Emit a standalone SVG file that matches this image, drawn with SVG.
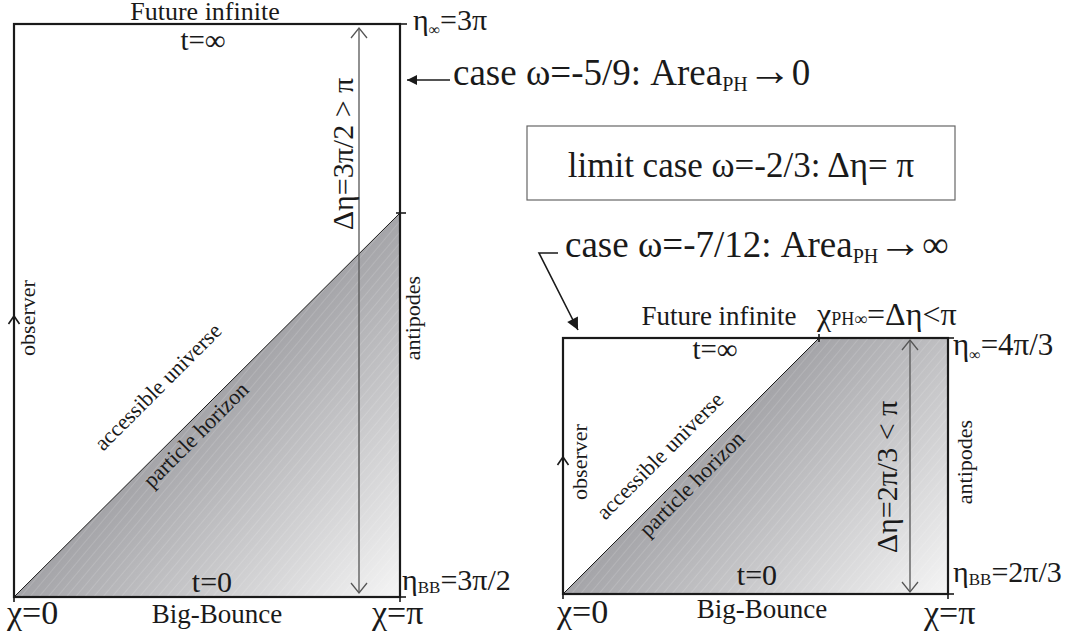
<svg xmlns="http://www.w3.org/2000/svg" width="1069" height="642" viewBox="0 0 1069 642">
<style>
text{font-family:"Liberation Serif","Times New Roman",serif;fill:#1a1a1a}
.frame{fill:none;stroke:#1a1a1a;stroke-width:2.2}
.diag{fill:none;stroke:#1a1a1a;stroke-width:1}
.dim{fill:none;stroke:#555;stroke-width:1.3}
.chev{fill:none;stroke:#1a1a1a;stroke-width:1.6}
.tick{stroke:#1a1a1a;stroke-width:1.6}
.lbl{font-size:22px}
</style>
<defs>
<linearGradient id="gL" gradientUnits="userSpaceOnUse" x1="207" y1="405" x2="400" y2="597">
<stop offset="0" stop-color="#a4a4a8"/><stop offset="1" stop-color="#f5f5f5"/>
</linearGradient>
<linearGradient id="gR" gradientUnits="userSpaceOnUse" x1="755" y1="401" x2="948" y2="594">
<stop offset="0" stop-color="#a4a4a8"/><stop offset="1" stop-color="#f5f5f5"/>
</linearGradient>
<pattern id="hatch" width="7" height="7" patternUnits="userSpaceOnUse" patternTransform="rotate(40)">
<line x1="0" y1="0" x2="0" y2="7" stroke="#ffffff" stroke-opacity="0.35" stroke-width="0.8"/>
</pattern>
<marker id="ahFill" viewBox="0 0 10 10" refX="10" refY="5" markerWidth="10" markerHeight="10" markerUnits="userSpaceOnUse" orient="auto">
<path d="M0,0 L10,5 L0,10 z" fill="#1a1a1a"/>
</marker>
<marker id="ahBig" viewBox="0 0 10 10" refX="10" refY="5" markerWidth="14" markerHeight="12" markerUnits="userSpaceOnUse" orient="auto">
<path d="M0,0 L10,5 L0,10 z" fill="#1a1a1a"/>
</marker>
</defs>

<g id="left-diagram">
<polygon points="14,597 400,213 400,597" fill="url(#gL)"/>
<polygon points="14,597 400,213 400,597" fill="url(#hatch)"/>
<line class="diag" x1="14" y1="597" x2="400" y2="213"/>
<rect class="frame" x="14" y="24" width="386" height="573"/>
<line class="tick" x1="398" y1="24" x2="407" y2="24"/>
<line class="tick" x1="396" y1="213" x2="406" y2="213"/>
<line class="tick" x1="14" y1="597" x2="14" y2="602"/>
<line class="tick" x1="400" y1="597" x2="400" y2="602"/>
<line class="tick" x1="400" y1="597" x2="406" y2="597"/>
<path class="chev" d="M8.5,324 L14,316 L19.5,324"/>
<text x="205" y="20" font-size="26" text-anchor="middle">Future infinite</text>
<text x="203" y="50" font-size="29" text-anchor="middle">t=∞</text>
<text x="212" y="592" font-size="30" text-anchor="middle">t=0</text>
<text x="217" y="623" font-size="27" text-anchor="middle">Big-Bounce</text>
<text x="7" y="624" font-size="34">χ=0</text>
<text x="372" y="624" font-size="34">χ=π</text>
<text x="413" y="30" font-size="30">η<tspan font-size="16" dy="5">∞</tspan><tspan dy="-5">=3π</tspan></text>
<text x="402" y="590" font-size="30">η<tspan font-size="17" dy="3">BB</tspan><tspan dy="-3">=3π/2</tspan></text>
<text class="lbl" transform="translate(35,318) rotate(-90)" text-anchor="middle">observer</text>
<text class="lbl" transform="translate(420,318) rotate(-90)" text-anchor="middle">antipodes</text>
<text class="lbl" transform="translate(163,392) rotate(-45)" text-anchor="middle">accessible universe</text>
<text class="lbl" transform="translate(201,440) rotate(-45)" text-anchor="middle">particle horizon</text>
<line class="dim" x1="359" y1="29" x2="359" y2="592"/>
<path class="dim" d="M351,38 L359,28 L367,38"/>
<path class="dim" d="M351,583 L359,593 L367,583"/>
<text transform="translate(353,154) rotate(-90)" font-size="30" text-anchor="middle">Δη=3π/2 &gt; π</text>
</g>

<g id="right-diagram">
<polygon points="563,594 819,338 948,338 948,594" fill="url(#gR)"/>
<polygon points="563,594 819,338 948,338 948,594" fill="url(#hatch)"/>
<line class="diag" x1="563" y1="594" x2="819" y2="338"/>
<rect class="frame" x="563" y="338" width="385" height="256"/>
<line class="tick" x1="819" y1="334" x2="819" y2="342"/>
<line class="tick" x1="948" y1="338" x2="954" y2="338"/>
<line class="tick" x1="948" y1="594" x2="954" y2="594"/>
<line class="tick" x1="948" y1="594" x2="948" y2="599"/>
<line class="tick" x1="563" y1="594" x2="563" y2="599"/>
<path class="chev" d="M557.5,465 L563,457 L568.5,465"/>
<text x="719" y="325" font-size="27" text-anchor="middle">Future infinite</text>
<text x="817" y="325" font-size="32">χ<tspan font-size="18">PH∞</tspan>=Δη&lt;π</text>
<text x="715" y="359" font-size="29" text-anchor="middle">t=∞</text>
<text x="757" y="585" font-size="30" text-anchor="middle">t=0</text>
<text x="762" y="618" font-size="27" text-anchor="middle">Big-Bounce</text>
<text x="557" y="623" font-size="34">χ=0</text>
<text x="924" y="624" font-size="34">χ=π</text>
<text x="953" y="355" font-size="31">η<tspan font-size="16" dy="5">∞</tspan><tspan dy="-5">=4π/3</tspan></text>
<text x="953" y="582" font-size="30">η<tspan font-size="17" dy="3">BB</tspan><tspan dy="-3">=2π/3</tspan></text>
<text class="lbl" transform="translate(587,462) rotate(-90)" text-anchor="middle">observer</text>
<text class="lbl" transform="translate(972,462) rotate(-90)" text-anchor="middle">antipodes</text>
<text class="lbl" transform="translate(665,461) rotate(-45)" text-anchor="middle">accessible universe</text>
<text class="lbl" transform="translate(697,489) rotate(-45)" text-anchor="middle">particle horizon</text>
<line class="dim" x1="910" y1="341" x2="910" y2="591"/>
<path class="dim" d="M902,350 L910,340 L918,350"/>
<path class="dim" d="M902,582 L910,592 L918,582"/>
<text transform="translate(897,477) rotate(-90)" font-size="30" text-anchor="middle">Δη=2π/3 &lt; π</text>
</g>

<g id="case-5-9">
<text x="453" y="85" font-size="37">case ω=-5/9: Area<tspan font-size="20" dy="6">PH</tspan><tspan font-size="44" dy="-6">→</tspan><tspan>0</tspan></text>
</g>

<g id="limit-case">
<rect x="527" y="126" width="428" height="74" fill="#ffffff" stroke="#666" stroke-width="1.2"/>
<text x="741" y="177" font-size="35" text-anchor="middle">limit case ω=-2/3: Δη= π</text>
</g>

<g id="case-7-12">
<text x="565" y="257" font-size="37">case ω=-7/12: Area<tspan font-size="20" dy="6">PH</tspan><tspan font-size="44" dy="-6">→</tspan><tspan>∞</tspan></text>
</g>

<g id="connectors">
<line x1="450" y1="80" x2="407" y2="80" stroke="#1a1a1a" stroke-width="1.6" marker-end="url(#ahFill)"/>
<path d="M558,253 L539,253 L578,330" fill="none" stroke="#1a1a1a" stroke-width="1.6" marker-end="url(#ahBig)"/>
</g>
</svg>
